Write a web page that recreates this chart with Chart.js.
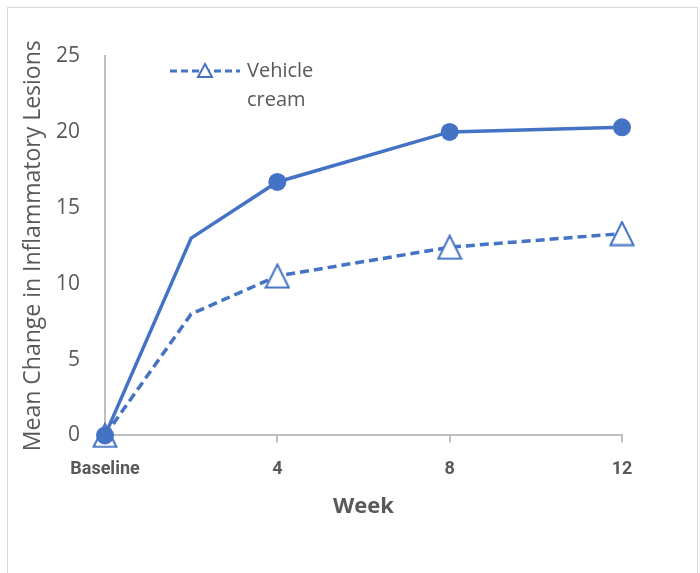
<!DOCTYPE html>
<html>
<head>
<meta charset="utf-8">
<script src="https://cdn.jsdelivr.net/npm/chart.js@4.4.1/dist/chart.umd.min.js"></script>
<style>
  html, body { margin: 0; padding: 0; background: #fff; }
  #wrap { position: relative; width: 700px; height: 573px; }
</style>
</head>
<body>
<div id="wrap"><canvas id="chart" width="700" height="573"></canvas></div>
<script>
// data
const weeks = [0, 2, 4, 8, 12];
const activeCream = [0, 13, 16.7, 20, 20.3];
const vehicleCream = [0, 8, 10.5, 12.4, 13.3];
const xTicks = [0, 4, 8, 12];
const xTickLabels = { 0: 'Baseline', 4: '4', 8: '8', 12: '12' };

const blue = '#4472C4';
const grey = '#595959';
const axisGrey = '#bfbfbf';

// open triangle marker, centred on its box like Excel does
function makeTriangle(size) {
    const c = document.createElement('canvas');
    c.width = size;
    c.height = size;
    const ctx = c.getContext('2d');
    ctx.fillStyle = '#fff';
    ctx.strokeStyle = blue;
    ctx.lineWidth = 2;
    ctx.beginPath();
    ctx.moveTo(size / 2, 1.5);
    ctx.lineTo(size - 1.5, size - 1.5);
    ctx.lineTo(1.5, size - 1.5);
    ctx.closePath();
    ctx.fill();
    ctx.stroke();
    return c;
}
const bigTriangle = makeTriangle(26);

// frame + custom legend (only the vehicle series is listed)
const decorations = {
    id: 'decorations',
    beforeDraw(chart) {
        const ctx = chart.ctx;
        ctx.save();
        ctx.strokeStyle = '#d9d9d9';
        ctx.lineWidth = 1;
        ctx.strokeRect(7.5, 7.5, 690, 620);
        ctx.restore();
    },
    afterDraw(chart) {
        const ctx = chart.ctx;
        ctx.save();
        ctx.strokeStyle = blue;
        ctx.lineWidth = 3;
        ctx.setLineDash([7, 4]);
        ctx.beginPath();
        ctx.moveTo(170, 71);
        ctx.lineTo(240, 71);
        ctx.stroke();
        ctx.setLineDash([]);
        ctx.fillStyle = '#fff';
        ctx.lineWidth = 2;
        ctx.beginPath();
        ctx.moveTo(205, 64);
        ctx.lineTo(212, 77);
        ctx.lineTo(198, 77);
        ctx.closePath();
        ctx.fill();
        ctx.stroke();
        ctx.fillStyle = grey;
        ctx.font = '20px "Open Sans"';
        ctx.textBaseline = 'middle';
        ctx.fillText('Vehicle', 247, 71);
        ctx.fillText('cream', 247, 100);
        ctx.restore();
    }
};

new Chart(document.getElementById('chart'), {
    type: 'line',
    data: {
        labels: weeks,
        datasets: [{
            label: 'Active cream',
            data: weeks.map((w, i) => ({ x: w, y: activeCream[i] })),
            borderColor: blue,
            backgroundColor: blue,
            borderWidth: 3.5,
            pointStyle: 'circle',
            pointRadius: [9, 0, 9, 9, 9],
            pointBorderWidth: 0,
            tension: 0,
            clip: false
        }, {
            label: 'Vehicle cream',
            data: weeks.map((w, i) => ({ x: w, y: vehicleCream[i] })),
            borderColor: blue,
            backgroundColor: '#fff',
            borderWidth: 3.5,
            borderDash: [9, 5],
            pointStyle: [bigTriangle, false, bigTriangle, bigTriangle, bigTriangle],
            pointRadius: [13, 0, 13, 13, 13],
            tension: 0,
            clip: false
        }]
    },
    options: {
        responsive: false,
        animation: false,
        layout: { padding: { left: 20, top: 56, right: 78, bottom: 55 } },
        plugins: {
            legend: { display: false },
            tooltip: { enabled: false }
        },
        scales: {
            x: {
                type: 'linear',
                min: 0,
                max: 12,
                afterBuildTicks: axis => { axis.ticks = xTicks.map(v => ({ value: v })); },
                grid: { display: true, drawOnChartArea: false, drawTicks: true, tickLength: 7, color: axisGrey, lineWidth: 2 },
                border: { display: true, color: axisGrey, width: 2 },
                ticks: {
                    color: grey,
                    font: { family: 'Roboto', size: 18, weight: 'bold' },
                    padding: 16,
                    maxRotation: 0,
                    callback: v => xTickLabels[v]
                },
                title: {
                    display: true,
                    text: 'Week',
                    color: grey,
                    font: { family: 'Open Sans', size: 22, weight: 'bold', lineHeight: 1 },
                    padding: { top: 0, bottom: 0 }
                }
            },
            y: {
                min: 0,
                max: 25,
                afterFit: axis => { axis.width = 85; },
                ticks: {
                    stepSize: 5,
                    color: grey,
                    font: { family: 'Open Sans', size: 21 },
                    padding: 25
                },
                grid: { display: false, drawTicks: false },
                border: { display: true, color: axisGrey, width: 2 },
                title: {
                    display: true,
                    text: 'Mean Change in Inflammatory Lesions',
                    color: grey,
                    font: { family: 'Open Sans', size: 23 },
                    padding: { top: 0, bottom: 0 }
                }
            }
        }
    },
    plugins: [decorations]
});
</script>
</body>
</html>
